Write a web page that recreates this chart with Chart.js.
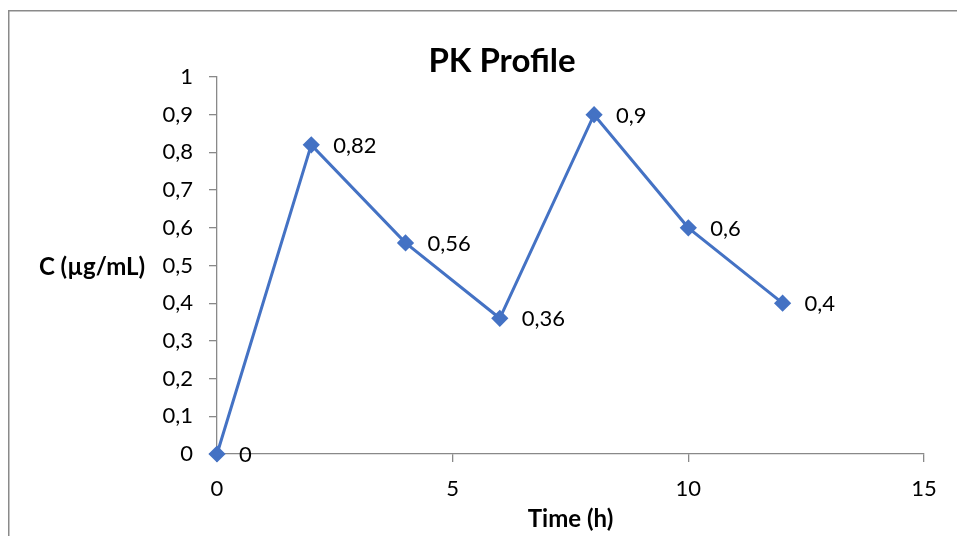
<!DOCTYPE html>
<html>
<head>
<meta charset="utf-8">
<script src="https://cdn.jsdelivr.net/npm/chart.js@4/dist/chart.umd.min.js"></script>
<style>
html,body{margin:0;padding:0;background:#fff;}
#wrap{width:957px;height:536px;position:relative;}
</style>
</head>
<body>
<div id="wrap"><canvas id="c" width="957" height="536"></canvas></div>
<script>
const chartTitle = 'PK Profile';
const xTitle = 'Time (h)';
const yTitle = 'C (µg/mL)';
const timeH = [0, 2, 4, 6, 8, 10, 12];
const concentration = [0, 0.82, 0.56, 0.36, 0.9, 0.6, 0.4];
const pointLabels = ['0', '0,82', '0,56', '0,36', '0,9', '0,6', '0,4'];
const yTickLabels = ['0', '0,1', '0,2', '0,3', '0,4', '0,5', '0,6', '0,7', '0,8', '0,9', '1'];

const FONT = 'Lato, "Open Sans", sans-serif';
const axisGray = '#898989';
const blue = '#4472C4';

const decor = {
  id: 'decor',
  beforeDraw(chart) {
    const ctx = chart.ctx;
    ctx.save();
    ctx.fillStyle = '#fff';
    ctx.fillRect(0, 0, chart.width, chart.height);
    ctx.strokeStyle = '#8a8a8a';
    ctx.lineWidth = 1.5;
    ctx.strokeRect(8.75, 10.75, 1200, 1200);
    ctx.restore();
  },
  afterDraw(chart) {
    const ctx = chart.ctx;
    const area = chart.chartArea;
    ctx.save();
    ctx.fillStyle = '#000';
    ctx.font = 'bold 33px ' + FONT;
    ctx.textAlign = 'center';
    ctx.textBaseline = 'middle';
    ctx.fillText(chartTitle, 502, 61);
    ctx.font = 'bold 24px ' + FONT;
    ctx.fillText(yTitle, 92, (area.top + area.bottom) / 2 + 2);
    ctx.font = '22px ' + FONT;
    ctx.textAlign = 'left';
    const meta = chart.getDatasetMeta(0);
    meta.data.forEach((pt, i) => {
      ctx.fillText(pointLabels[i], pt.x + 22, pt.y + 1);
    });
    ctx.restore();
  }
};

new Chart(document.getElementById('c'), {
  type: 'line',
  data: {
    datasets: [{
      data: timeH.map((t, i) => ({x: t, y: concentration[i]})),
      borderColor: blue,
      backgroundColor: blue,
      borderWidth: 3,
      pointStyle: 'rectRot',
      pointRadius: 6.5,
      pointHoverRadius: 6.5,
      pointBackgroundColor: blue,
      pointBorderColor: blue,
      tension: 0,
      clip: false
    }]
  },
  options: {
    responsive: false,
    animation: false,
    events: [],
    layout: { padding: { left: 0, right: 33, top: 77, bottom: 0 } },
    plugins: { legend: { display: false }, title: { display: false }, tooltip: { enabled: false } },
    scales: {
      x: {
        type: 'linear',
        min: 0, max: 15,
        afterFit(s) { s.height = 82; },
        ticks: { stepSize: 5, color: '#000', font: { family: FONT, size: 22 }, padding: 14, maxRotation: 0 },
        grid: { drawOnChartArea: false, drawTicks: true, tickLength: 8, color: axisGray, lineWidth: 1.3 },
        border: { display: true, color: axisGray, width: 1.3 },
        title: { display: true, text: xTitle, color: '#000', font: { family: FONT, size: 24, weight: 'bold' }, padding: { top: 0, bottom: 2 } }
      },
      y: {
        min: 0, max: 1,
        afterFit(s) { s.width = 217; },
        afterBuildTicks(s) { s.ticks = yTickLabels.map((_, i) => ({ value: i / 10 })); },
        ticks: { color: '#000', font: { family: FONT, size: 22 }, padding: 16, callback: (v, i) => yTickLabels[i] },
        grid: { drawOnChartArea: false, drawTicks: true, tickLength: 8, color: axisGray, lineWidth: 1.3 },
        border: { display: true, color: axisGray, width: 1.3 }
      }
    }
  },
  plugins: [decor]
});
</script>
</body>
</html>
